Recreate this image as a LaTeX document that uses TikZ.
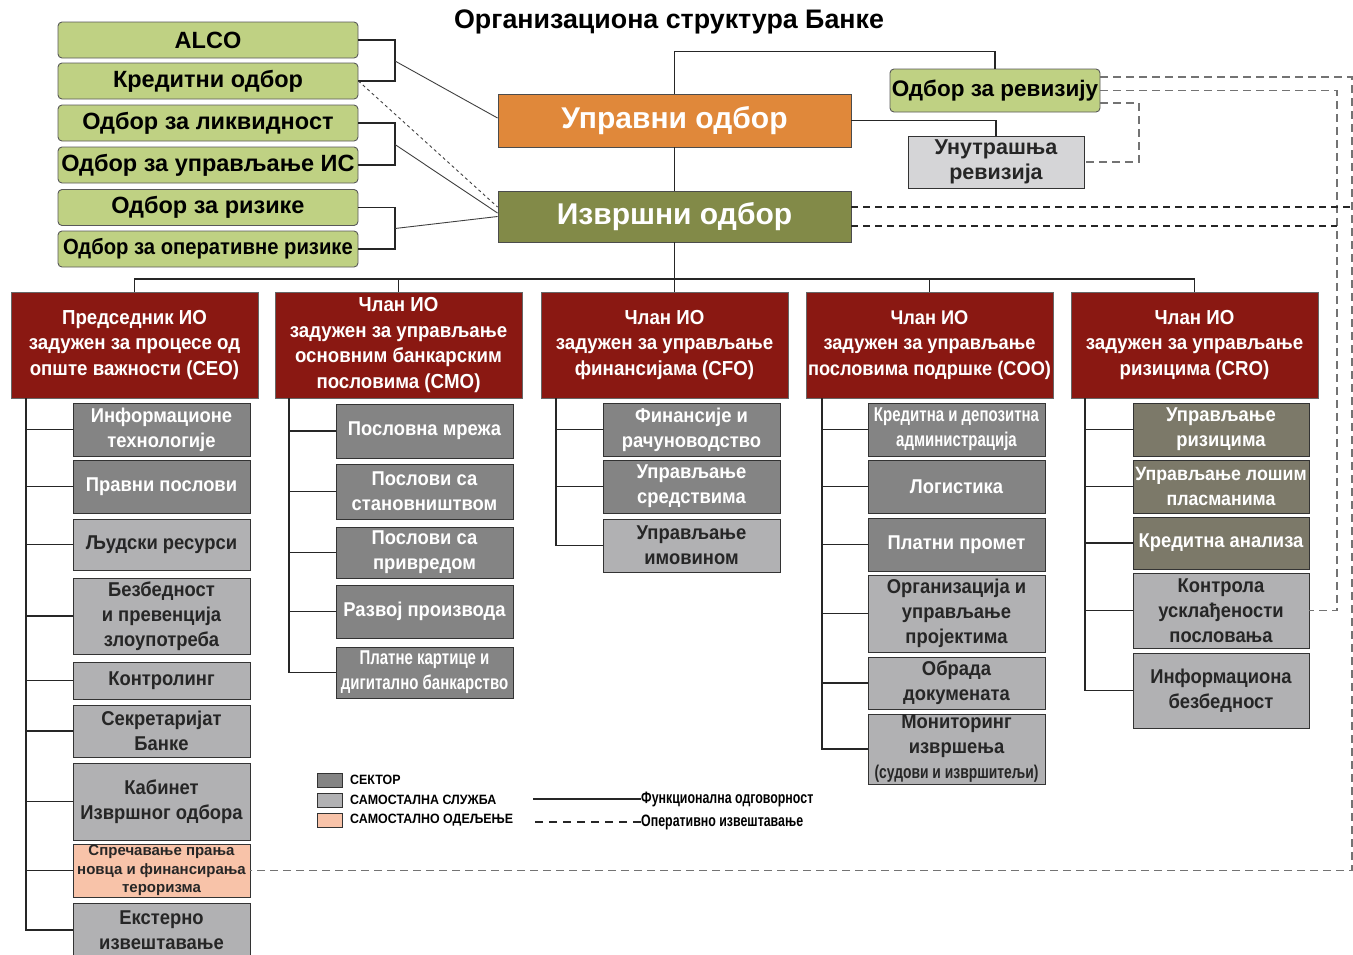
\documentclass[tikz,border=0pt]{standalone}
\usepackage{fontspec}
\setmainfont{Liberation Sans}
\newfontfamily\narrowfont[FakeStretch=0.92]{Liberation Sans}
\newfontfamily\tightfont[FakeStretch=0.75]{Liberation Sans}
\newcommand\setfs[2]{\fontsize{#1}{#2}\selectfont}
\definecolor{cmtegreen}{HTML}{BFD183}
\definecolor{boardorange}{HTML}{E0883A}
\definecolor{execolive}{HTML}{828A48}
\definecolor{headred}{HTML}{8A1812}
\definecolor{sectorgray}{HTML}{848484}
\definecolor{servicegray}{HTML}{B1B1B3}
\definecolor{riskgray}{HTML}{7C7969}
\definecolor{deptsalmon}{HTML}{F8C3A9}
\definecolor{auditgray}{HTML}{D5D5D7}
\begin{document}
\begin{tikzpicture}[x=1pt,y=-1pt,
	every node/.style={inner sep=0pt,align=center},
	cmte/.style={draw=black!65,fill=cmtegreen,rounded corners=4pt,line width=0.9pt,minimum width=300pt,minimum height=36pt,font=\bfseries\setfs{23.5}{27}},
	board/.style={draw=black!70,line width=0.9pt,minimum width=353pt,text=white,font=\bfseries\setfs{30}{34}},
	head/.style={draw=black!60,line width=0.9pt,fill=headred,text=white,minimum width=247pt,minimum height=106pt,font=\narrowfont\bfseries\setfs{20.3}{25.5}},
	unit/.style={draw=black!80,line width=0.9pt,minimum width=177pt,font=\narrowfont\bfseries\setfs{20}{25}},
	sector/.style={unit,fill=sectorgray,text=white},
	service/.style={unit,fill=servicegray,text=black!85},
	risk/.style={unit,fill=riskgray,text=white},
	dept/.style={unit,fill=deptsalmon,text=black!85},
	tree/.style={line width=1.3pt,black!85},
	link/.style={line width=0.9pt,black!75},
	oper/.style={line width=1.4pt,black!85,dash pattern=on 7pt off 5pt},
	audit/.style={line width=1.2pt,black!55,dash pattern=on 8pt off 5pt},
	]
	\useasboundingbox (0,0) rectangle (1353,954);
	\node[font=\bfseries\setfs{26.8}{30}] (title) at (669,22) {Организациона структура Банке};
	% odbori
	\node[cmte] (alco) at (208,40) {ALCO};
	\node[cmte] (kred) at (208,81) {Кредитни одбор};
	\node[cmte] (likv) at (208,123) {Одбор за ликвидност};
	\node[cmte] (uis) at (208,165) {Одбор за управљање ИС};
	\node[cmte] (riz) at (208,207.5) {Одбор за ризике};
	\node[cmte,font=\narrowfont\bfseries\setfs{22}{26}] (oprz) at (208,249) {Одбор за оперативне ризике};
	\node[board,fill=boardorange,minimum height=53pt] (upravni) at (674.5,120.5) {Управни одбор};
	\node[board,fill=execolive,minimum height=51pt] (izvrsni) at (674.5,216.5) {Извршни одбор};
	\node[cmte,minimum width=210pt,minimum height=43pt,font=\bfseries\setfs{22.5}{26}] (revodb) at (995,90.5) {Одбор за ревизију};
	\node[unit,fill=auditgray,minimum width=176pt,minimum height=52pt,text=black!85,font=\bfseries\setfs{21.5}{25}] (unutr) at (996,162) {Унутрашња\\ревизија};
	% clanovi IO
	\node[head] (ceo) at (134.5,345) {Председник ИО\\задужен за процесе од\\опште важности (CEO)};
	\node[head] (cmo) at (398.5,345) {Члан ИО\\задужен за управљање\\основним банкарским\\пословима (CMO)};
	\node[head] (cfo) at (664.5,345) {Члан ИО\\задужен за управљање\\финансијама (CFO)};
	\node[head,font=\narrowfont\bfseries\setfs{19.8}{25.5}] (coo) at (929.5,345) {Члан ИО\\задужен за управљање\\пословима подршке (COO)};
	\node[head] (cro) at (1194.5,345) {Члан ИО\\задужен за управљање\\ризицима (CRO)};
	% CEO
	\node[sector,minimum height=53pt] (it) at (161.5,429.5) {Информационе\\технологије};
	\node[sector,minimum height=53pt] (pravni) at (161.5,486.5) {Правни послови};
	\node[service,minimum height=51pt] (ljudski) at (161.5,544.5) {Људски ресурси};
	\node[service,minimum height=76pt] (bezb) at (161.5,616) {Безбедност\\и превенција\\злоупотреба};
	\node[service,minimum height=37pt] (kontroling) at (161.5,680.5) {Контролинг};
	\node[service,minimum height=52pt] (sekr) at (161.5,731) {Секретаријат\\Банке};
	\node[service,minimum height=77pt] (kabinet) at (161.5,801.5) {Кабинет\\Извршног одбора};
	\node[dept,minimum height=53pt,font=\bfseries\setfs{15}{18.5}] (sprec) at (161.5,870.5) {Спречавање прања\\новца и финансирања\\тероризма};
	\node[service,minimum height=54pt] (ekst) at (161.5,930) {Екстерно\\извештавање};
	% CMO
	\node[sector,minimum height=54pt] (mreza) at (424.5,431) {Пословна мрежа};
	\node[sector,minimum height=55pt] (stan) at (424.5,491.5) {Послови са\\становништвом};
	\node[sector,minimum height=51pt] (privr) at (424.5,552.5) {Послови са\\привредом};
	\node[sector,minimum height=53pt] (razvoj) at (424.5,611.5) {Развој производа};
	\node[sector,minimum height=51pt,font=\tightfont\bfseries\setfs{20}{25}] (kartice) at (424.5,672.5) {Платне картице и\\дигитално банкарство};
	% CFO
	\node[sector,minimum height=53pt] (fin) at (691.5,429.5) {Финансије и\\рачуноводство};
	\node[sector,minimum height=53pt] (sredstva) at (691.5,486.5) {Управљање\\средствима};
	\node[service,minimum height=53pt] (imovina) at (691.5,545.5) {Управљање\\имовином};
	% COO
	\node[sector,minimum height=53pt,font=\tightfont\bfseries\setfs{20}{25}] (kda) at (956.5,429.5) {Кредитна и депозитна\\администрација};
	\node[sector,minimum height=53pt] (logist) at (956.5,486.5) {Логистика};
	\node[sector,minimum height=53pt] (platni) at (956.5,544.5) {Платни промет};
	\node[service,minimum height=77pt] (orgpr) at (956.5,613.5) {Организација и\\управљање\\пројектима};
	\node[service,minimum height=52pt] (obrada) at (956.5,683) {Обрада\\докумената};
	\node[service,minimum height=70pt] (monit) at (956.5,749) {Мониторинг\\извршења\\{\tightfont\setfs{18.5}{20}(судови и извршитељи)}};
	% CRO
	\node[risk,minimum width=176pt,minimum height=53pt] (uprriz) at (1221,429.5) {Управљање\\ризицима};
	\node[risk,minimum width=176pt,minimum height=53pt,font=\narrowfont\bfseries\setfs{19.3}{25}] (losi) at (1221,486.5) {Управљање лошим\\пласманима};
	\node[risk,minimum width=176pt,minimum height=52pt] (kranal) at (1221,543) {Кредитна анализа};
	\node[service,minimum width=176pt,minimum height=75pt] (kontrola) at (1221,610.5) {Контрола\\усклађености\\пословања};
	\node[service,minimum width=176pt,minimum height=75pt] (infbez) at (1221,690.5) {Информациона\\безбедност};
	% veze odbora
	\coordinate (b1) at (395,61);
	\coordinate (b2) at (395,144.5);
	\coordinate (b3) at (395,228.5);
	\draw[tree] (alco.east) -| (b1) |- (kred.east);
	\draw[tree] (likv.east) -| (b2) |- (uis.east);
	\draw[tree] (riz.east) -| (b3) |- (oprz.east);
	\draw[link] (b1) -- ([yshift=2.5pt]upravni.west);
	\draw[link] (b2) -- ([yshift=3.5pt]izvrsni.west);
	\draw[link] (b3) -- (izvrsni.west);
	\draw[link,dashed] (kred.east) -- ([yshift=9.5pt]izvrsni.west);
	\draw[tree] (upravni.north) -- ++(0,-42) -| (revodb.north);
	\draw[tree] (upravni.east) -| (unutr.north);
	\draw[tree] (upravni.south) -- (izvrsni.north);
	\coordinate (bar) at (0,279);
	\draw[tree] (izvrsni.south) -- (izvrsni.south |- cfo.north);
	\draw[tree] (ceo.north) -- (ceo.north |- bar) -- (cro.north |- bar) -- (cro.north);
	\foreach \h in {cmo,coo}
		\draw[tree] (\h.north) -- (\h.north |- bar);
	% stabla
	\coordinate (ceoT) at (26,398);
	\coordinate (cmoT) at (289,398);
	\coordinate (cfoT) at (556,398);
	\coordinate (cooT) at (822,398);
	\coordinate (croT) at (1085,398);
	\foreach \u in {it,pravni,ljudski,bezb,kontroling,sekr,kabinet,sprec,ekst}
		\draw[tree] (ceoT) |- (\u.west);
	\foreach \u in {mreza,stan,privr,razvoj,kartice}
		\draw[tree] (cmoT) |- (\u.west);
	\foreach \u in {fin,sredstva,imovina}
		\draw[tree] (cfoT) |- (\u.west);
	\foreach \u in {kda,logist,platni,orgpr,obrada,monit}
		\draw[tree] (cooT) |- (\u.west);
	\foreach \u in {uprriz,losi,kranal,kontrola,infbez}
		\draw[tree] (croT) |- (\u.west);
	% izvestavanje
	\coordinate (rout) at (1352,207);
	\coordinate (rin) at (1337,226);
	\coordinate (rint) at (1139,130);
	\draw[audit] ([yshift=13.5pt]revodb.east) -| (rout) |- (sprec.east);
	\draw[audit] (revodb.east) -| (rin) |- (kontrola.east);
	\draw[audit] ([yshift=-12.5pt]revodb.east) -| (rint) |- (unutr.east);
	\draw[oper] ([yshift=9.5pt]izvrsni.east) -- (rout);
	\draw[oper] ([yshift=-9.5pt]izvrsni.east) -- (rin);
	% legenda
	\node[sector,minimum width=25pt,minimum height=14pt] (lsec) at (329.5,780) {};
	\node[service,minimum width=25pt,minimum height=14pt] (lsrv) at (329.5,800) {};
	\node[dept,minimum width=25pt,minimum height=14pt] (ldep) at (329.5,820) {};
	\node[anchor=west,font=\narrowfont\bfseries\setfs{13.5}{16}] (tsec) at (350,780) {СЕКТОР};
	\node[anchor=west,font=\narrowfont\bfseries\setfs{13.5}{16}] (tsrv) at (350,800) {САМОСТАЛНА СЛУЖБА};
	\node[anchor=west,font=\narrowfont\bfseries\setfs{13.5}{16}] (tdep) at (350,820) {САМОСТАЛНО ОДЕЉЕЊЕ};
	\node[anchor=west,font=\tightfont\bfseries\setfs{16.5}{18}] (tfunk) at (641,799) {Функционална одговорност};
	\node[anchor=west,font=\tightfont\bfseries\setfs{16.5}{18}] (toper) at (641,822) {Оперативно извештавање};
	\draw[tree,line width=1.2pt] (tfunk.west) -- ++(-108,0);
	\draw[oper,line width=1.2pt,dash pattern=on 8pt off 6pt] (toper.west) -- ++(-108,0);
\end{tikzpicture}
\end{document}
